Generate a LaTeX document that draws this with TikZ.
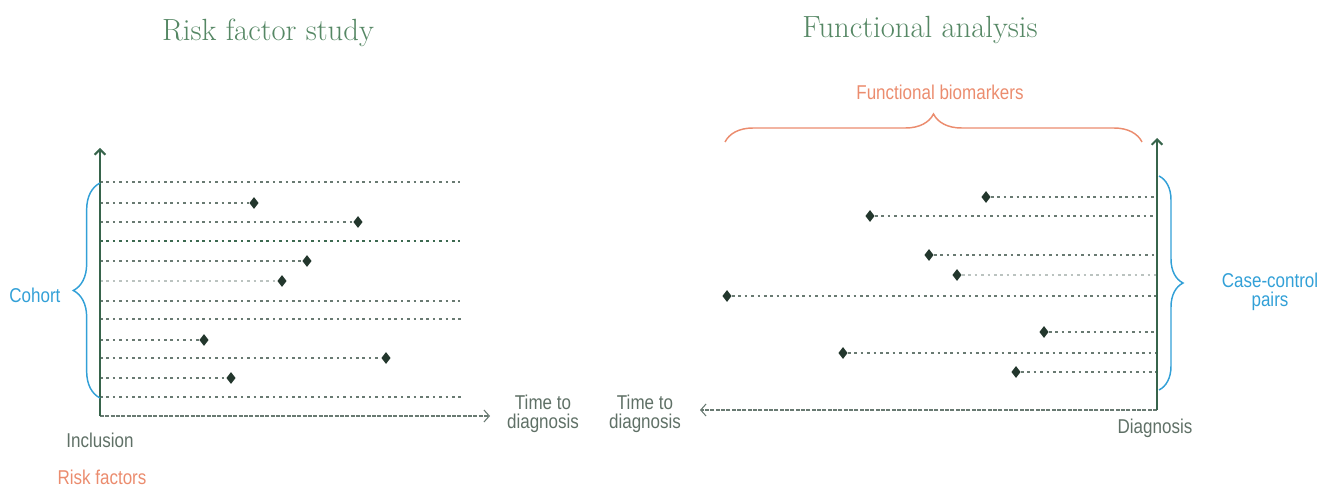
\documentclass[tikz,border=0pt]{standalone}
\usepackage{fontspec}
\usetikzlibrary{positioning}
\usetikzlibrary{arrows.meta}
\usetikzlibrary{shapes.geometric}
\usetikzlibrary{decorations.pathreplacing}
\newfontfamily\labfont[FakeStretch=0.85]{Liberation Sans}
\definecolor{axisgreen}{RGB}{55,100,75}
\definecolor{rowgray}{RGB}{105,122,114}
\definecolor{rowdark}{RGB}{60,105,80}
\definecolor{dotdark}{RGB}{35,55,45}
\definecolor{titlegreen}{RGB}{85,135,100}
\definecolor{cohortblue}{RGB}{50,160,215}
\definecolor{salmon}{RGB}{235,140,110}
\definecolor{labgray}{RGB}{95,112,102}
\tikzset{
  rowline/.style={rowgray, line width=1.6pt, dash pattern=on 2pt off 2.8pt},
  marker/.style={diamond, fill=dotdark, inner sep=0pt, minimum width=7pt, minimum height=9pt},
  vaxis/.style={axisgreen, line width=1.5pt, -{Straight Barb[length=4pt,width=8pt]}},
  timeaxis/.style={rowgray, line width=0.8pt, dash pattern=on 3pt off 1pt, -{Straight Barb[length=4pt,width=9pt]}},
  lab/.style={font=\labfont\fontsize{15}{14.5}\selectfont, inner sep=1pt},
  ttl/.style={font=\fontsize{23}{28}\selectfont, text=titlegreen},
  bracket/.style={decorate, line width=1.1pt}
}
\begin{document}
\begin{tikzpicture}[x=0.75pt,y=-0.75pt]
  \useasboundingbox (0,0) rectangle (1342,488);

  % left panel
  \node[ttl] (titleL) at (268,33) {Risk factor study};
  \coordinate (oL) at (100,416);
  \coordinate (topL) at (100,148);
  \coordinate (tL) at (490,416);
  \draw[timeaxis] (oL) -- (tL);
  \coordinate (e1) at (460,182);
  \coordinate (e4) at (460,241);
  \coordinate (e7) at (460,301);
  \coordinate (e8) at (462,319);
  \coordinate (e12) at (462,397);
  \node[marker] (r2) at (254,203) {};
  \node[marker] (r3) at (358,222) {};
  \node[marker] (r5) at (307,261) {};
  \node[marker] (r6) at (282,281) {};
  \node[marker] (r9) at (204,340) {};
  \node[marker] (r10) at (386,358) {};
  \node[marker] (r11) at (231,378) {};
  \draw[rowline] (oL |- e1) -- (e1);
  \draw[rowline] (oL |- r2) -- (r2);
  \draw[rowline] (oL |- r3) -- (r3);
  \draw[rowline, rowdark, line width=1.9pt] (oL |- e4) -- (e4);
  \draw[rowline] (oL |- r5) -- (r5);
  \draw[rowline, rowgray!45] (oL |- r6) -- (r6);
  \draw[rowline] (oL |- e7) -- (e7);
  \draw[rowline] (oL |- e8) -- (e8);
  \draw[rowline] (oL |- r9) -- (r9);
  \draw[rowline] (oL |- r10) -- (r10);
  \draw[rowline] (oL |- r11) -- (r11);
  \draw[rowline] (oL |- e12) -- (e12);
  \draw[vaxis] (oL) -- (topL);
  \coordinate (cohortB) at (100,398);
  \coordinate (cohortT) at (100,183);
  \draw[bracket, cohortblue, decoration={brace, amplitude=20pt}] (cohortB) -- (cohortT);
  \node[lab, text=cohortblue, anchor=east] (cohort) at (62,295) {Cohort};
  \node[lab, text=labgray] (incl) at (100,440) {Inclusion};
  \node[lab, text=salmon] (riskf) at (102,477) {Risk factors};
  \node[lab, text=labgray, align=center] (ttdL) at (543,414) {Time to\\diagnosis};

  % right panel
  \node[ttl] (titleR) at (920,30) {Functional analysis};
  \coordinate (oR) at (1157,410);
  \coordinate (topR) at (1157,138);
  \coordinate (tR) at (700,410);
  \draw[timeaxis] (oR) -- (tR);
  \node[marker] (c1) at (986,197) {};
  \node[marker] (c2) at (870,216) {};
  \node[marker] (c3) at (929,255) {};
  \node[marker] (c4) at (957,275) {};
  \node[marker] (c5) at (727,296) {};
  \node[marker] (c6) at (1044,332) {};
  \node[marker] (c7) at (843,353) {};
  \node[marker] (c8) at (1016,372) {};
  \draw[rowline] (c1) -- (oR |- c1);
  \draw[rowline] (c2) -- (oR |- c2);
  \draw[rowline] (c3) -- (oR |- c3);
  \draw[rowline, rowgray!45] (c4) -- (oR |- c4);
  \draw[rowline] (c5) -- (oR |- c5);
  \draw[rowline] (c6) -- (oR |- c6);
  \draw[rowline] (c7) -- (oR |- c7);
  \draw[rowline] (c8) -- (oR |- c8);
  \draw[vaxis] (oR) -- (topR);
  \coordinate (pairsT) at (1159,176);
  \coordinate (pairsB) at (1159,390);
  \draw[bracket, cohortblue, decoration={brace, amplitude=18pt}] (pairsT) -- (pairsB);
  \node[lab, text=cohortblue, align=center] (ccp) at (1270,292) {Case-control\\pairs};
  \coordinate (bioL) at (725,142);
  \coordinate (bioR) at (1142,142);
  \draw[bracket, salmon, decoration={brace, amplitude=21pt}] (bioL) -- (bioR);
  \node[lab, text=salmon] (fbio) at (940,92) {Functional biomarkers};
  \node[lab, text=labgray, align=center] (ttdR) at (645,414) {Time to\\diagnosis};
  \node[lab, text=labgray] (diag) at (1155,428) {Diagnosis};
\end{tikzpicture}
\end{document}
